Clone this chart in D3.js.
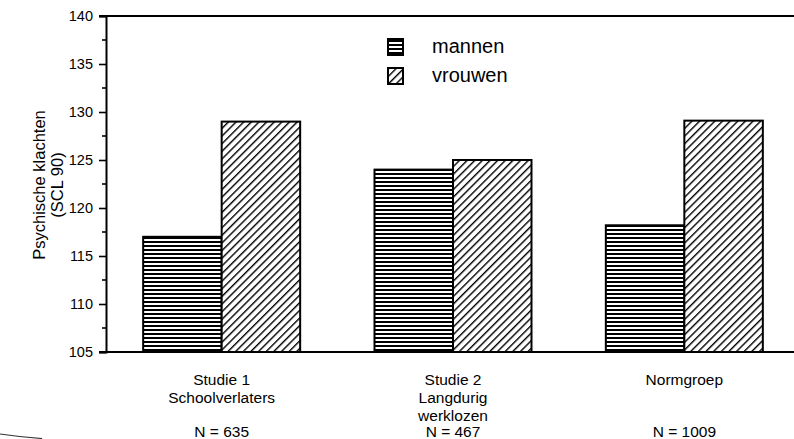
<!DOCTYPE html>
<html>
<head>
<meta charset="utf-8">
<script src="https://cdn.jsdelivr.net/npm/d3@7"></script>
<style>
  html, body { margin: 0; padding: 0; background: #fff; }
  svg { display: block; font-family: "Liberation Sans", Arial, Helvetica, sans-serif; }
</style>
</head>
<body>
<svg id="chart" width="794" height="439"></svg>
<script>
// ---- data ----
const categories = ["Studie 1", "Studie 2", "Normgroep"];
const categoryLines = [["Studie 1", "Schoolverlaters"], ["Studie 2", "Langdurig", "werklozen"], ["Normgroep"]];
const sampleSizes = ["N = 635", "N = 467", "N = 1009"];
const seriesNames = ["mannen", "vrouwen"];
const mannen = [117, 124, 118.2];
const vrouwen = [129, 125, 129.1];
const yTicks = [105, 110, 115, 120, 125, 130, 135, 140];
const yLabel = ["Psychische klachten", "(SCL 90)"];

const svg = d3.select("#chart");

const y = d3.scaleLinear().domain([105, 140]).range([352, 16]);
const x = d3.scaleBand().domain(categories).range([106, 800]).paddingInner(0).paddingOuter(0);
const inner = d3.scaleBand().domain(seriesNames).range([0, 157]);
const groupOffset = (x.bandwidth() - 157) / 2;

// patterns
const defs = svg.append("defs");
const ph = defs.append("pattern").attr("id", "horiz")
  .attr("patternUnits", "userSpaceOnUse").attr("width", 8).attr("height", 4);
ph.append("rect").attr("width", 8).attr("height", 4).attr("fill", "#fff");
ph.append("rect").attr("y", 1).attr("width", 8).attr("height", 2).attr("fill", "#000");

const pd = defs.append("pattern").attr("id", "diag")
  .attr("patternUnits", "userSpaceOnUse").attr("width", 5.4).attr("height", 10)
  .attr("patternTransform", "rotate(45)");
pd.append("rect").attr("width", 5.4).attr("height", 10).attr("fill", "#fff");
pd.append("rect").attr("x", 0).attr("width", 1.4).attr("height", 10).attr("fill", "#000");

const fills = { mannen: "url(#horiz)", vrouwen: "url(#diag)" };
const seriesData = { mannen, vrouwen };

// bars
const groups = svg.append("g").selectAll("g")
  .data(categories).join("g")
  .attr("transform", d => `translate(${x(d) + groupOffset},0)`);

groups.selectAll("rect")
  .data((d, i) => seriesNames.map(s => ({ s, v: seriesData[s][i] })))
  .join("rect")
  .attr("x", d => inner(d.s))
  .attr("y", d => y(d.v))
  .attr("width", inner.bandwidth())
  .attr("height", d => y(105) - y(d.v))
  .attr("fill", d => fills[d.s])
  .attr("stroke", "#000")
  .attr("stroke-width", 2);

// y axis
const yAxis = d3.axisLeft(y).tickValues(yTicks).tickSize(7).tickPadding(6);
const gy = svg.append("g").attr("transform", "translate(106,0)").call(yAxis);
gy.select(".domain").attr("stroke", "#000").attr("stroke-width", 2);
gy.selectAll(".tick line").attr("stroke", "#000").attr("stroke-width", 1.6);
gy.selectAll(".tick text").attr("font-size", 14.5).attr("fill", "#000")
  .attr("font-family", "Liberation Sans, Arial, sans-serif");

// minor ticks
const minor = d3.range(107.5, 140, 5);
svg.append("g").selectAll("line").data(minor).join("line")
  .attr("x1", 102).attr("x2", 106)
  .attr("y1", d => y(d)).attr("y2", d => y(d))
  .attr("stroke", "#000").attr("stroke-width", 1.6);

// top and bottom lines
svg.append("line").attr("x1", 99).attr("x2", 794).attr("y1", y(140)).attr("y2", y(140))
  .attr("stroke", "#000").attr("stroke-width", 2);
svg.append("line").attr("x1", 99).attr("x2", 794).attr("y1", y(105)).attr("y2", y(105))
  .attr("stroke", "#000").attr("stroke-width", 2);

// y label
const yl = svg.append("text")
  .attr("transform", "translate(45,185) rotate(-90)")
  .attr("text-anchor", "middle").attr("font-size", 16.5).attr("fill", "#000");
yLabel.forEach((t, i) => yl.append("tspan").attr("x", 0).attr("dy", i === 0 ? 0 : 18).text(t));

// x labels
const xl = svg.append("g");
categories.forEach((c, i) => {
  const cx = x(c) + x.bandwidth() / 2;
  const t = xl.append("text").attr("text-anchor", "middle").attr("font-size", 15.5).attr("fill", "#000");
  categoryLines[i].forEach((line, j) => {
    t.append("tspan").attr("x", cx).attr("y", 385 + j * 18).text(line);
  });
  xl.append("text").attr("text-anchor", "middle").attr("font-size", 15.5).attr("fill", "#000")
    .attr("x", cx).attr("y", 437).text(sampleSizes[i]);
});

// legend
const legend = svg.append("g").attr("transform", "translate(388,39)");
seriesNames.forEach((s, i) => {
  const g = legend.append("g").attr("transform", `translate(0,${i * 29})`);
  g.append("rect").attr("width", 15).attr("height", 16)
    .attr("fill", fills[s]).attr("stroke", "#000").attr("stroke-width", 2);
  g.append("text").attr("x", 44).attr("y", 14).attr("font-size", 20).attr("fill", "#000").text(s);
});

// scan edge artifact at lower left
svg.append("path").attr("d", "M0,434 Q20,437 42,438.5")
  .attr("fill", "none").attr("stroke", "#333").attr("stroke-width", 1.2);
</script>
</body>
</html>
